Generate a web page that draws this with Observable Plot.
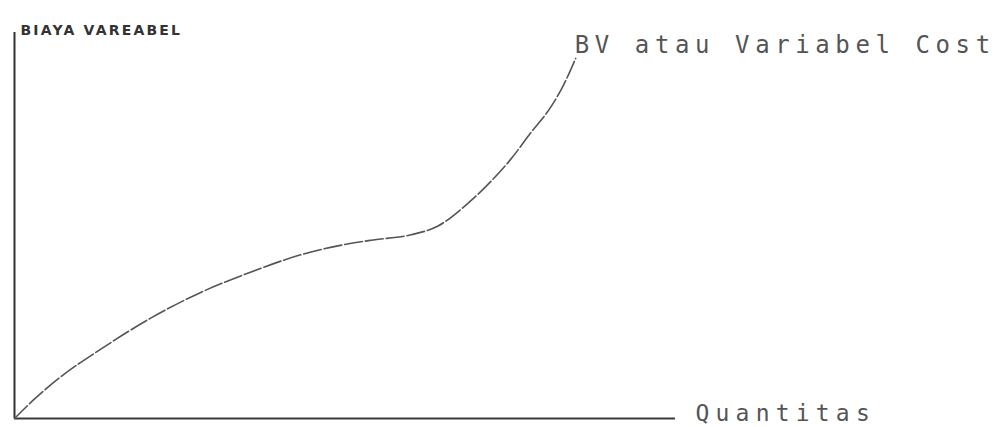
<!DOCTYPE html>
<html>
<head>
<meta charset="utf-8">
<script src="https://cdn.jsdelivr.net/npm/d3@7"></script>
<script src="https://cdn.jsdelivr.net/npm/@observablehq/plot@0.6"></script>
<style>
  html, body { margin: 0; padding: 0; background: #fff; }
  #chart svg { display: block; overflow: visible; }
</style>
</head>
<body>
<div id="chart"></div>
<script>
// Quantity (x) and variable cost (y) (0–100 scale)
const quantitas = [0, 3.0, 7.0, 13.0, 20.6, 28.1, 35.7, 43.3, 48.0, 54.0, 60.0, 64.0, 68.5, 72.0, 75.0, 78.1, 81.1, 83.1, 84.9];
const biayaVariabel = [0, 5.0, 10.8, 17.9, 26.0, 32.6, 37.9, 42.4, 44.4, 46.2, 47.6, 49.8, 55.6, 61.3, 67.0, 74.0, 80.6, 86.5, 93.3];

const yAxisTitle = "BIAYA VAREABEL";
const xAxisTitle = "Quantitas";
const curveLabel = "BV atau Variabel Cost";

const data = quantitas.map((q, i) => ({q, bv: biayaVariabel[i]}));
const last = data[data.length - 1];

const plot = Plot.plot({
  width: 997,
  height: 427,
  marginLeft: 14,
  marginRight: 322,
  marginTop: 32,
  marginBottom: 9,
  x: {domain: [0, 100], axis: null},
  y: {domain: [0, 100], axis: null},
  style: {background: "#fff"},
  marks: [
    Plot.ruleX([0], {stroke: "#333", strokeWidth: 2}),
    Plot.ruleY([0], {stroke: "#3a3a3a", strokeWidth: 2}),
    Plot.line(data, {x: "q", y: "bv", curve: "monotone-x", stroke: "#555", strokeWidth: 1.6, strokeDasharray: "18 3"}),
    Plot.text([curveLabel], {x: last.q, y: last.bv, text: d => d, textAnchor: "start", lineAnchor: "bottom", dx: -1, dy: -5,
      fontFamily: "DejaVu Sans Mono", fontSize: 24, fill: "#555"}),
    Plot.text([xAxisTitle], {x: 100, y: 0, text: d => d, textAnchor: "start", lineAnchor: "bottom", dx: 20, dy: 2,
      fontFamily: "DejaVu Sans Mono", fontSize: 23, fill: "#555"}),
    Plot.text([yAxisTitle], {x: 0, y: 100, text: d => d, textAnchor: "start", lineAnchor: "bottom", dx: 6, dy: 2,
      fontFamily: "DejaVu Sans", fontSize: 14, fontWeight: "bold", fill: "#333"})
  ]
});
document.getElementById("chart").appendChild(plot);
// wide dot-matrix feel for the big labels
d3.select(plot).selectAll("text").each(function() {
  const t = d3.select(this);
  const s = this.textContent;
  if (s === curveLabel) t.style("letter-spacing", "5.6px");
  if (s === xAxisTitle) t.style("letter-spacing", "6.2px");
  if (s === yAxisTitle) t.style("letter-spacing", "2.2px");
});
</script>
</body>
</html>
